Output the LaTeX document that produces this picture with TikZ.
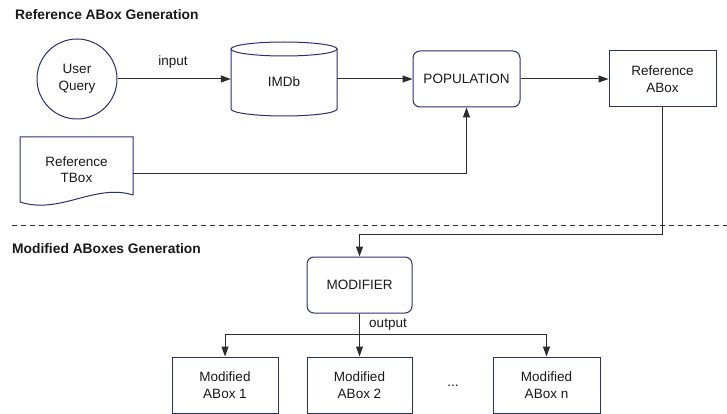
\documentclass[tikz,border=0pt]{standalone}
\usepackage{fontspec}
\setmainfont{Liberation Sans}
\usetikzlibrary{arrows.meta}
\definecolor{navy}{RGB}{44,48,110}
\definecolor{conn}{RGB}{45,45,45}
\definecolor{txt}{RGB}{25,25,25}
\tikzset{
  base/.style={font=\fontsize{13.5}{16.5}\selectfont, text=txt, align=center},
  boxline/.style={draw=navy, line width=1pt},
  sqbox/.style={base, boxline, rectangle, minimum width=107pt, minimum height=56pt, inner sep=0pt},
  rbox/.style={sqbox, rounded corners=7pt},
  conline/.style={draw=conn, line width=1pt},
  arr/.style={conline, -{Triangle[length=10pt,width=7pt]}},
  title/.style={font=\bfseries\fontsize{13.8}{16}\selectfont, text=txt, anchor=west, inner sep=0pt},
  lbl/.style={base, inner sep=0pt}
}
\begin{document}
\begin{tikzpicture}[x=1pt,y=-1pt]
\useasboundingbox[fill=white] (0,0) rectangle (727,414);

% titles
\node[title] (t1) at (15,15) {Reference ABox Generation};
\node[title] (t2) at (12,249) {Modified ABoxes Generation};

% user query
\node[base, boxline, circle, minimum size=80pt, inner sep=0pt] (uq) at (77,79) {User\\Query};

% IMDb cylinder
\node[minimum width=106pt, minimum height=74pt, inner sep=0pt] (imdb) at (284,79) {};
\draw[boxline] (231,49) -- (231,109) arc[start angle=180, end angle=360, x radius=53pt, y radius=7pt] -- (337,49);
\draw[boxline] (284,49) ellipse [x radius=53pt, y radius=7pt];
\node[lbl] (imdbtxt) at (284,82) {IMDb};

% population and reference abox
\node[rbox] (pop) at (466.5,79) {POPULATION};
\node[sqbox] (rabox) at (662.5,79) {Reference\\ABox};

% TBox document
\node[minimum width=113pt, minimum height=72pt, inner sep=0pt] (tbox) at (76.5,173) {};
\draw[boxline] (133,195) -- (133,137) -- (20,137) -- (20,202)
  .. controls (60,215) and (95,183) .. (133,195);
\node[lbl] (tboxtxt) at (76.5,169.5) {Reference\\TBox};

% connectors top
\draw[arr] (uq.east) -- (uq.east -| imdb.west);
\node[lbl] (inp) at (173,62) {input};
\draw[arr] (imdb.east |- pop.west) -- (pop.west);
\draw[arr] (pop.east) -- (rabox.west);
\draw[arr] (tbox.east) -| (pop.south);

% separator
\coordinate (sepl) at (12,225);
\coordinate (sepr) at (727,225);
\draw[conn, line width=0.8pt, dash pattern=on 5pt off 4pt] (sepl) -- (sepr);

% modifier
\node[rbox, minimum width=105pt] (modi) at (359.5,285) {MODIFIER};
\draw[arr] (rabox.south) -- ++(0,127) -| (modi.north);

% modified aboxes
\node[sqbox, minimum width=106pt] (m1) at (225,385) {Modified\\ABox 1};
\node[sqbox, minimum width=105pt] (m2) at (359.5,385) {Modified\\ABox 2};
\node[sqbox] (mn) at (546.5,385) {Modified\\ABox n};
\node[lbl] (dots) at (453,386) {...};

\draw[conline] (modi.south) -- ++(0,21) coordinate (split);
\draw[arr] (split) -| (m1.north);
\draw[arr] (split) -| (mn.north);
\draw[arr] (split) -- (m2.north);
\node[lbl] (outp) at (388,325) {output};
\end{tikzpicture}
\end{document}
